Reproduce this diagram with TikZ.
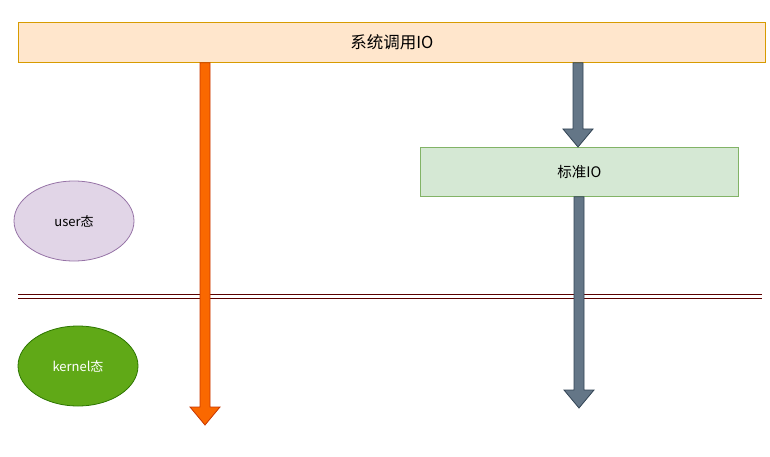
\documentclass[tikz,border=0pt]{standalone}
\usepackage{fontspec}
\setmainfont{Noto Sans CJK SC}
\usetikzlibrary{calc,shapes.geometric}
\definecolor{barfill}{HTML}{FFE6CC}
\definecolor{barline}{HTML}{D79B00}
\definecolor{stdfill}{HTML}{D5E8D4}
\definecolor{stdline}{HTML}{82B366}
\definecolor{usrfill}{HTML}{E1D5E7}
\definecolor{usrline}{HTML}{9673A6}
\definecolor{kerfill}{HTML}{60A917}
\definecolor{kerline}{HTML}{2D7600}
\definecolor{orfill}{HTML}{FA6800}
\definecolor{orline}{HTML}{C73500}
\definecolor{grfill}{HTML}{647687}
\definecolor{grline}{HTML}{314354}
\definecolor{sepline}{HTML}{5A0000}
\tikzset{
  boxnode/.style={draw, line width=0.8pt, inner sep=0pt, anchor=north west},
  ellnode/.style={ellipse, draw, line width=0.8pt, inner sep=0pt, minimum width=120pt, minimum height=80pt},
  orangearrow/.style={fill=orfill, draw=orline, line width=0.8pt, line join=miter},
  greyarrow/.style={fill=grfill, draw=grline, line width=0.8pt, line join=miter},
}
% block arrow: #1 style, #2 start coord, #3 tip coord (vertical, downwards)
\newcommand\blockarrowdown[3]{%
  \draw[#1] let \p1=#2, \p2=#3 in
    (\x1-5,\y1) -- (\x1+5,\y1) -- (\x1+5,\y2+18) -- (\x1+15,\y2+18) --
    (\x1,\y2) -- (\x1-15,\y2+18) -- (\x1-5,\y2+18) -- cycle;}
\begin{document}
\begin{tikzpicture}[x=1pt,y=1pt]
\useasboundingbox (0,0) rectangle (770,456);
% top bar (y measured from bottom: 456 - ypx)
\node[boxnode, fill=barfill, draw=barline, minimum width=747pt, minimum height=40pt] (sys) at (18,434) {};
\node[font=\fontsize{16.5}{19}\selectfont] at (sys.center) {系统调用IO};
% standard IO box
\node[boxnode, fill=stdfill, draw=stdline, minimum width=318pt, minimum height=49pt] (std) at (420,309) {};
\node[font=\fontsize{14.5}{17}\selectfont] at (std.center) {标准IO};
% ellipses
\node[ellnode, fill=usrfill, draw=usrline, font=\fontsize{13}{15}\selectfont] (user) at (74,235) {user态};
\node[ellnode, fill=kerfill, draw=kerline, text=white, font=\fontsize{13}{15}\selectfont] (kernel) at (78,90) {kernel态};
% separator double line
\coordinate (sepL) at (18,160);
\coordinate (sepR) at (762,160);
\draw[sepline, line width=0.7pt] ($(sepL)+(0,2)$) -- ($(sepR)+(0,2)$);
\draw[sepline, line width=0.7pt] ($(sepL)+(0,-2)$) -- ($(sepR)+(0,-2)$);
% arrows
\coordinate (oStart) at (205,394);
\coordinate (oTip) at (205,31);
\coordinate (g1Start) at (578,394);
\coordinate (g2Start) at (579,260);
\coordinate (g2Tip) at (579,48);
\blockarrowdown{orangearrow}{($(sys.south west)!(oStart)!(sys.south east)$)}{(oTip)}
\blockarrowdown{greyarrow}{($(sys.south west)!(g1Start)!(sys.south east)$)}{($(std.north west)!(g1Start)!(std.north east)$)}
\blockarrowdown{greyarrow}{($(std.south west)!(g2Start)!(std.south east)$)}{(g2Tip)}
\end{tikzpicture}
\end{document}
